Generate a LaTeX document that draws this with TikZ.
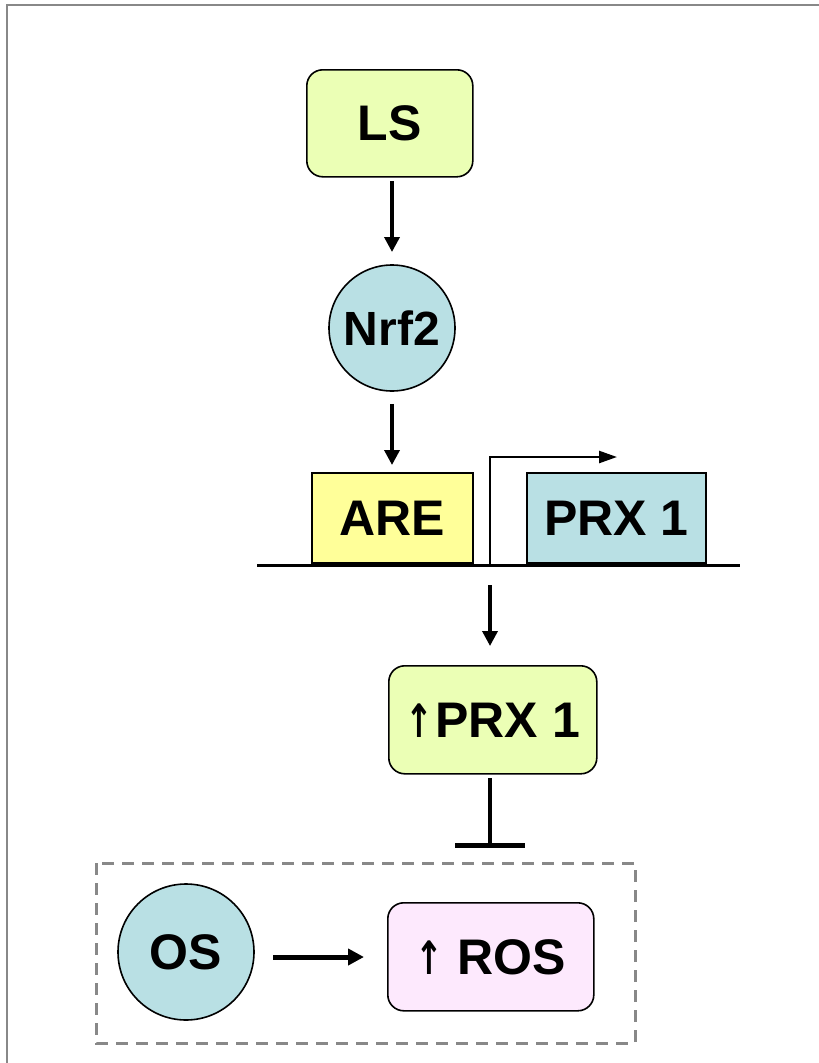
\documentclass[tikz,border=0pt]{standalone}
\usepackage{fontspec}
\setmainfont{Liberation Sans}
\newfontfamily\arrfont{DejaVu Sans}
\usetikzlibrary{arrows.meta}
\definecolor{lgreen}{HTML}{EBFFB5}
\definecolor{lblue}{HTML}{B9E0E4}
\definecolor{lyellow}{HTML}{FFFF99}
\definecolor{lpink}{HTML}{FDE9FD}
\definecolor{framegray}{HTML}{888888}
\newcommand{\uparr}{\scalebox{0.72}[1]{\arrfont\bfseries\fontsize{46}{46}\selectfont ↑}}
\tikzset{
  rbox/.style={draw=black, line width=1.6pt, rounded corners=16pt, font=\fontsize{50}{54}\selectfont\bfseries, inner sep=0pt, anchor=north west},
  sbox/.style={draw=black, line width=1.6pt, font=\fontsize{50}{54}\selectfont\bfseries, inner sep=0pt, anchor=north west},
  circ/.style={draw=black, line width=1.6pt, circle, fill=lblue, inner sep=0pt},
  arr/.style={line width=3.5pt, -{Triangle[length=15pt,width=15pt]}},
}
\begin{document}
\begin{tikzpicture}[x=1pt,y=-1pt]
\useasboundingbox (0,0) rectangle (819,1063);
\draw[framegray, line width=2pt] (7,1063) -- (7,5) -- (819,5);
% nodes
\node[rbox, fill=lgreen, minimum width=166pt, minimum height=107pt] (ls) at (306,69) {LS};
\node[circ, minimum size=126pt, font=\fontsize{48}{52}\selectfont\bfseries] (nrf) at (392,328) {Nrf2};
\node[sbox, fill=lyellow, minimum width=161pt, minimum height=90pt] (are) at (311,472) {ARE};
\node[sbox, fill=lblue, minimum width=179pt, minimum height=90pt] (gene) at (526,472) {PRX 1};
\node[rbox, fill=lgreen, minimum width=208pt, minimum height=108pt] (prx) at (388,665) {\uparr\hspace{2pt}PRX 1};
\node[circ, minimum size=136pt, font=\fontsize{50}{54}\selectfont\bfseries] (os) at (186,952) {OS};
\node[rbox, fill=lpink, minimum width=206pt, minimum height=108pt] (ros) at (387,902) {\uparr\hspace{14pt}ROS};
% DNA line
\coordinate (dnaL) at (257,565);
\coordinate (dnaR) at (740,565);
\draw[line width=3pt] (dnaL) -- (dnaR);
% promoter arrow
\coordinate (promB) at (490,565);
\coordinate (promT) at (490,457);
\coordinate (promE) at (617,457);
\draw[line width=2.5pt, -{Triangle[length=18pt,width=12pt]}] (promB) -- (promT) -- (promE);
% arrows
\coordinate (a1s) at (392,181);
\draw[arr] (a1s) -- (392,252);
\draw[arr] (nrf.south) ++(0,12) -- (392,465);
\coordinate (a3s) at (490,585);
\coordinate (a3e) at (490,646);
\draw[arr] (a3s) -- (a3e);
% inhibition
\coordinate (tb) at (490,778);
\coordinate (tt) at (490,845);
\draw[line width=4pt] (tb) -- (tt);
\draw[line width=5pt] (455,845) -- (525,845);
% OS -> ROS
\coordinate (osr) at (273,957);
\coordinate (rosl) at (364,957);
\draw[line width=5pt, -{Triangle[length=16pt,width=16pt]}] (osr) -- (rosl);
% dashed group
\draw[framegray, line width=3pt, dash pattern=on 12pt off 8pt] (96,863) rectangle (635,1043);
\end{tikzpicture}
\end{document}
